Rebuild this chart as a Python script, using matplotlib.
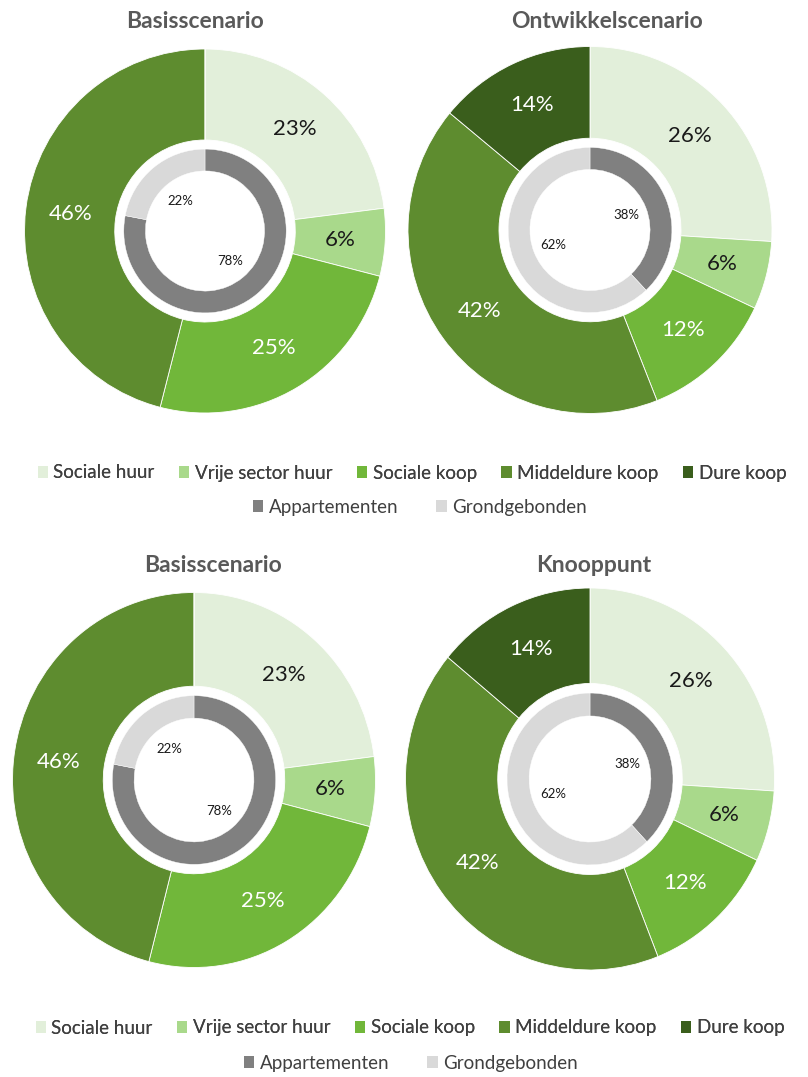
import matplotlib
matplotlib.use('Agg')
import matplotlib.pyplot as plt
from matplotlib.patches import Patch

# ---- data ----
categories = ['Sociale huur', 'Vrije sector huur', 'Sociale koop', 'Middeldure koop', 'Dure koop']
inner_categories = ['Appartementen', 'Grondgebonden']

basis_outer = [23, 6, 25, 46, 0]
basis_inner = [78, 22]
ontwikkel_outer = [26, 6, 12, 42, 14]
ontwikkel_inner = [38, 62]
knooppunt_outer = [26, 6, 12, 42, 14]
knooppunt_inner = [38, 62]

titles = ['Basisscenario', 'Ontwikkelscenario', 'Basisscenario', 'Knooppunt']

# ---- styles ----
outer_colors = ['#E2EFDA', '#A9D98B', '#71B73A', '#5E8C2F', '#3A5E1C']
outer_label_colors = ['#1A1A1A', '#1A1A1A', 'white', 'white', 'white']
inner_colors = ['#808080', '#D9D9D9']
FONT = 'Lato'
W, H = 808, 1077

fig = plt.figure(figsize=(W / 100, H / 100), dpi=100)


def pct_fmt(p):
    return f'{p:.0f}%' if p > 0.5 else ''


def donut(cx, cy, rx, ry, outer, inner, title, tx, ty):
    k = 1.02
    ax = fig.add_axes([(cx - rx * k) / W, 1 - (cy + ry * k) / H,
                       2 * rx * k / W, 2 * ry * k / H])
    _, _, at = ax.pie(outer, colors=outer_colors, radius=1, startangle=90,
                      counterclock=False,
                      wedgeprops=dict(width=0.5, edgecolor='white', linewidth=0.6),
                      autopct=pct_fmt, pctdistance=0.75,
                      textprops=dict(fontsize=16, family=FONT))
    for t, c in zip(at, outer_label_colors):
        t.set_color(c)
    ax.pie(inner, colors=inner_colors, radius=0.45, startangle=90,
           counterclock=False,
           wedgeprops=dict(width=0.12, edgecolor='white', linewidth=0.3),
           autopct=pct_fmt, pctdistance=0.48,
           textprops=dict(fontsize=9.5, family=FONT, color='#1A1A1A'))
    ax.set_xlim(-k, k)
    ax.set_ylim(-k, k)
    ax.set_aspect('auto')
    ax.axis('off')
    fig.text(tx / W, 1 - ty / H, title, ha='center', va='center',
             fontsize=16.5, fontweight='bold', color='#595959', family=FONT)


donut(205, 231, 180.5, 182, basis_outer, basis_inner, titles[0], 195, 22)
donut(590, 230, 182, 183.5, ontwikkel_outer, ontwikkel_inner, titles[1], 607, 22)
donut(194, 780, 181.5, 187.5, basis_outer, basis_inner, titles[2], 213, 565)
donut(590, 779, 184.5, 191, knooppunt_outer, knooppunt_inner, titles[3], 594, 565)


def legend_rows(y1, y2, x1, x2):
    h1 = [Patch(facecolor=c, edgecolor='none') for c in outer_colors]
    h2 = [Patch(facecolor=c, edgecolor='none') for c in inner_colors]
    common = dict(loc='center', frameon=False, handlelength=0.55, handleheight=0.55,
                  handletextpad=0.3, borderpad=0, borderaxespad=0,
                  prop=dict(family=FONT, size=13.5), labelcolor='#404040')
    l1 = fig.legend(h1, categories, bbox_to_anchor=(x1 / W, 1 - y1 / H), ncol=5,
                    columnspacing=1.3, **common)
    l2 = fig.legend(h2, inner_categories, bbox_to_anchor=(x2 / W, 1 - y2 / H), ncol=2,
                    columnspacing=2.0, **common)
    fig.add_artist(l1)


legend_rows(473, 507, 412, 420)
legend_rows(1028, 1063, 410, 411)

fig.savefig('out.png', dpi=100, facecolor='white')
